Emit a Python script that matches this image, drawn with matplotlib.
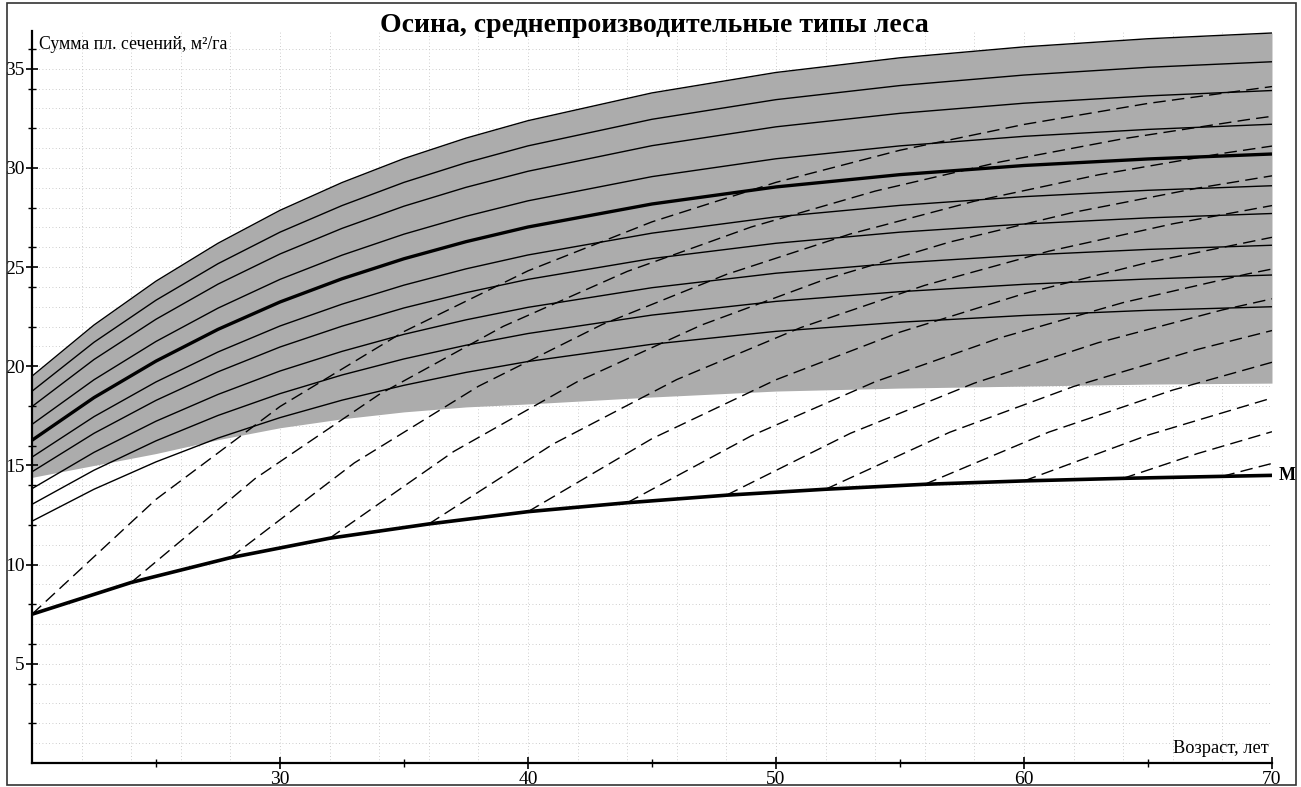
import matplotlib
matplotlib.use('Agg')
import matplotlib.pyplot as plt
from matplotlib.patches import Rectangle

plt.rcParams['font.family'] = ['Liberation Serif', 'DejaVu Serif']

# ages at which the solid (site) curves were read
site_ages = [20, 22.5, 25, 27.5, 30, 32.5, 35, 37.5, 40, 45, 50, 55, 60, 65, 70]

# solid curves, from the lowest to the highest
site_curves = [
    [12.19, 13.80, 15.18, 16.38, 17.41, 18.29, 19.04, 19.69, 20.24, 21.11, 21.76, 22.22, 22.56, 22.82, 23.0],
    [13.04, 14.76, 16.24, 17.52, 18.62, 19.56, 20.37, 21.06, 21.65, 22.58, 23.27, 23.76, 24.13, 24.40, 24.6],
    [13.83, 15.66, 17.23, 18.58, 19.76, 20.75, 21.61, 22.34, 22.97, 23.96, 24.69, 25.21, 25.60, 25.89, 26.1],
    [14.68, 16.62, 18.28, 19.72, 20.97, 22.02, 22.94, 23.71, 24.38, 25.43, 26.20, 26.76, 27.17, 27.48, 27.7],
    [15.42, 17.46, 19.21, 20.72, 22.03, 23.13, 24.09, 24.91, 25.61, 26.71, 27.53, 28.11, 28.55, 28.87, 29.1],
    [16.27, 18.42, 20.26, 21.86, 23.24, 24.41, 25.42, 26.28, 27.02, 28.18, 29.04, 29.66, 30.12, 30.45, 30.7],
    [17.07, 19.32, 21.25, 22.93, 24.38, 25.60, 26.66, 27.56, 28.34, 29.56, 30.46, 31.11, 31.59, 31.94, 32.2],
    [17.97, 20.34, 22.37, 24.14, 25.66, 26.95, 28.07, 29.02, 29.83, 31.12, 32.07, 32.75, 33.26, 33.63, 33.9],
    [18.74, 21.21, 23.33, 25.17, 26.76, 28.10, 29.27, 30.26, 31.11, 32.45, 33.44, 34.15, 34.68, 35.07, 35.35],
    [19.50, 22.08, 24.29, 26.20, 27.86, 29.26, 30.47, 31.50, 32.38, 33.78, 34.81, 35.55, 36.10, 36.51, 36.8],
]
thick_curve = 5

# lower edge of the grey band (upper edge is the highest solid curve)
band_bottom = [14.4, 15.0, 15.6, 16.3, 16.9, 17.35, 17.7, 17.95, 18.1, 18.45, 18.75, 18.9, 19.0, 19.1, 19.15]

# curve M
m_ages = [20, 24, 28, 32, 36, 40, 44, 48, 52, 56, 60, 64, 68, 70]
m_values = [7.5, 9.1, 10.35, 11.33, 12.05, 12.67, 13.12, 13.5, 13.8, 14.05, 14.22, 14.35, 14.45, 14.5]

# dashed curves, each one starts on curve M
dashed_ages = [
    [20, 25, 30, 35, 40, 45, 50, 55, 60, 65, 70],
    [24, 29, 34, 39, 44, 49, 54, 59, 64, 69, 70],
    [28, 33, 38, 43, 48, 53, 58, 63, 68, 70],
    [32, 37, 42, 47, 52, 57, 62, 67, 70],
    [36, 41, 46, 51, 56, 61, 66, 70],
    [40, 45, 50, 55, 60, 65, 70],
    [44, 49, 54, 59, 64, 69, 70],
    [48, 53, 58, 63, 68, 70],
    [52, 57, 62, 67, 70],
    [56, 61, 66, 70],
    [60, 65, 70],
    [64, 67, 70],
    [68, 69, 70],
]
dashed_values = [
    [7.5, 13.29, 17.97, 21.75, 24.81, 27.28, 29.27, 30.89, 32.19, 33.25, 34.1],
    [9.1, 14.34, 18.58, 22.01, 24.78, 27.02, 28.83, 30.29, 31.47, 32.43, 32.6],
    [10.35, 15.13, 18.99, 22.11, 24.63, 26.67, 28.32, 29.65, 30.73, 31.1],
    [11.33, 15.70, 19.23, 22.08, 24.39, 26.26, 27.76, 28.98, 29.6],
    [12.05, 16.07, 19.33, 21.95, 24.08, 25.80, 27.18, 28.1],
    [12.67, 16.35, 19.32, 21.72, 23.66, 25.23, 26.5],
    [13.12, 16.49, 19.22, 21.42, 23.21, 24.65, 24.9],
    [13.5, 16.62, 19.15, 21.19, 22.84, 23.4],
    [13.8, 16.67, 18.98, 20.85, 21.8],
    [14.05, 16.68, 18.80, 20.2],
    [14.22, 16.53, 18.4],
    [14.35, 15.60, 16.7],
    [14.45, 14.78, 15.1],
]

x_labels = [30, 40, 50, 60, 70]
y_labels = [5, 10, 15, 20, 25, 30, 35]


def main():
    fig = plt.figure(figsize=(13.01, 7.87), dpi=100)
    ax = fig.add_axes([0.0246, 0.0305, 0.9531, 0.9301])
    ax.set_xlim(20, 70)
    ax.set_ylim(0, 36.9)

    # faint dotted grid
    for x in range(22, 70, 2):
        ax.axvline(x, color='#bdbdbd', lw=0.6, ls=(0, (1, 3)), zorder=0)
    for y in range(1, 37):
        ax.axhline(y, color='#bdbdbd', lw=0.6, ls=(0, (1, 3)), zorder=0)

    # grey band
    ax.fill_between(site_ages, band_bottom, site_curves[-1], color='#acacac', lw=0, zorder=1)

    # solid curves
    for i, values in enumerate(site_curves):
        lw = 2.4 if i == thick_curve else 1.0
        ax.plot(site_ages, values, color='black', lw=lw, zorder=3, solid_capstyle='butt')

    # dashed curves
    for ages, values in zip(dashed_ages, dashed_values):
        ax.plot(ages, values, color='black', lw=1.0, ls=(0, (9, 4.5)), zorder=3)

    # curve M
    ax.plot(m_ages, m_values, color='black', lw=2.6, zorder=4)
    ax.text(70.25, m_values[-1], 'М', fontsize=13, fontweight='bold', ha='left', va='center', clip_on=False)

    # axes
    for side in ['top', 'right']:
        ax.spines[side].set_visible(False)
    ax.spines['left'].set_linewidth(1.6)
    ax.spines['bottom'].set_linewidth(1.6)
    ax.set_xticks(x_labels)
    ax.set_xticks([25, 35, 45, 55, 65], minor=True)
    ax.set_yticks(y_labels)
    ax.set_yticks([2, 4, 6, 8, 12, 14, 16, 18, 22, 24, 26, 28, 32, 34, 36], minor=True)
    ax.tick_params(which='major', direction='inout', length=9, width=1.2, labelsize=14, pad=1)
    ax.tick_params(which='minor', direction='inout', length=6, width=1.0)

    ax.text(20.3, 36.2, 'Сумма пл. сечений, м²/га', fontsize=12.8, ha='left', va='center')
    ax.text(69.85, 0.3, 'Возраст, лет', fontsize=13.2, ha='right', va='bottom')
    fig.text(0.503, 0.967, 'Осина, среднепроизводительные типы леса', fontsize=20,
             fontweight='bold', ha='center', va='center')

    # outer frame of the picture
    fig.patches.append(Rectangle((0.005, 0.002), 0.991, 0.994, transform=fig.transFigure,
                                 fill=False, edgecolor='#333333', lw=1.2))

    fig.savefig('out.png', dpi=100)


if __name__ == '__main__':
    main()
